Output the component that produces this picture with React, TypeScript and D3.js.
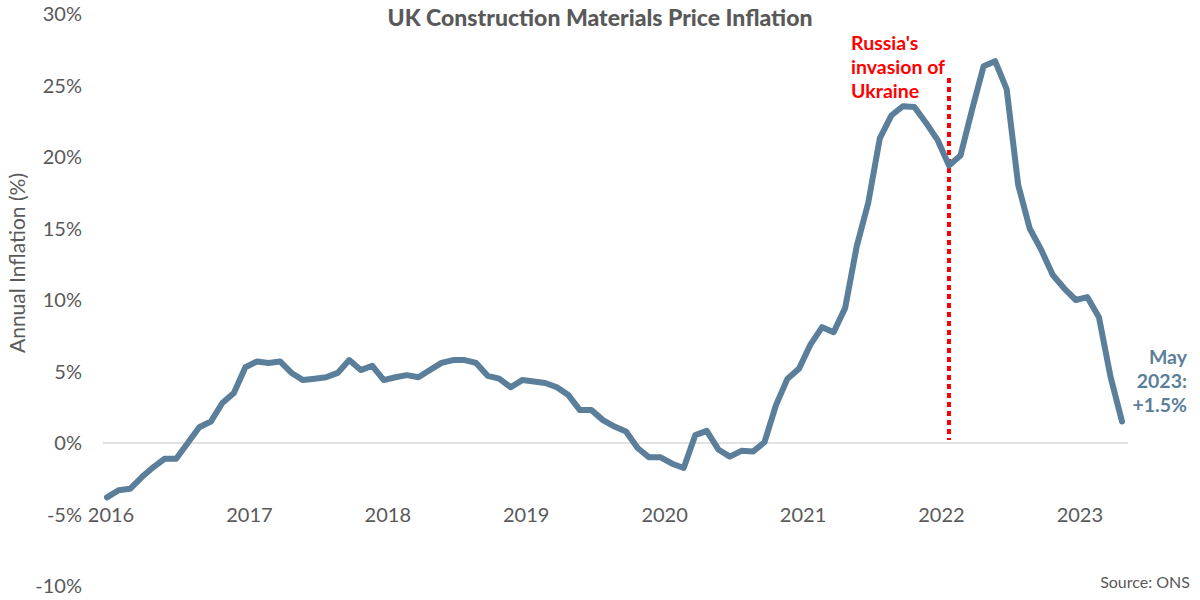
import React from 'react';
import * as d3 from 'd3';

// monthly annual inflation (%), Jan 2016 - May 2023
const values2016 = [-3.8, -3.3, -3.2, -2.4, -1.7, -1.1, -1.1, 0.0, 1.1, 1.5, 2.8, 3.5];
const values2017 = [5.3, 5.7, 5.6, 5.7, 4.9, 4.4, 4.5, 4.6, 4.9, 5.8, 5.1, 5.4];
const values2018 = [4.4, 4.6, 4.75, 4.6, 5.1, 5.6, 5.8, 5.8, 5.6, 4.7, 4.5, 3.9];
const values2019 = [4.4, 4.3, 4.2, 3.9, 3.35, 2.3, 2.3, 1.6, 1.15, 0.8, -0.35, -1.0];
const values2020 = [-1.0, -1.45, -1.75, 0.55, 0.85, -0.45, -0.95, -0.55, -0.6, 0.05, 2.65, 4.5];
const values2021 = [5.2, 6.9, 8.1, 7.75, 9.45, 13.75, 16.8, 21.3, 22.9, 23.55, 23.5, 22.4];
const values2022 = [21.2, 19.4, 20.1, 23.3, 26.35, 26.7, 24.75, 18.05, 15.0, 13.5, 11.75, 10.8];
const values2023 = [10.0, 10.2, 8.8, 4.65, 1.5];

const years = [2016, 2017, 2018, 2019, 2020, 2021, 2022, 2023];
const yTicks = [-10, -5, 0, 5, 10, 15, 20, 25, 30];

const series = [
  ...values2016, ...values2017, ...values2018, ...values2019,
  ...values2020, ...values2021, ...values2022, ...values2023,
];

// Feb 2022 (month index from Jan 2016)
const invasionMonth = 73;

const W = 1200;
const H = 600;
const FONT = 'Lato, "Open Sans", sans-serif';
const GREY = '#595959';
const LINE = '#5b7f9a';

const App: React.FC = () => {
  const x = d3.scaleLinear().domain([0, series.length - 1]).range([107, 1122]);
  const y = d3.scaleLinear().domain([-10, 30]).range([586, 14]);

  const line = d3
    .line<number>()
    .x((_, i) => x(i))
    .y((d) => y(d));

  const last = series[series.length - 1];

  return (
    <div style={{ position: 'fixed', left: 0, top: 0, background: '#fff' }}>
      <svg width={W} height={H} style={{ display: 'block', fontFamily: FONT }}>
        <rect width={W} height={H} fill="#fff" />

        {/* title */}
        <text x={600} y={26} textAnchor="middle" fontSize={23} fontWeight={900} fill={GREY}>
          UK Construction Materials Price Inflation
        </text>

        {/* y axis labels */}
        {yTicks.map((t) => (
          <text key={t} x={82} y={y(t)} dy="0.35em" textAnchor="end" fontSize={20} fill={GREY}>
            {`${t}%`}
          </text>
        ))}
        <text
          transform={`translate(25,${263}) rotate(-90)`}
          textAnchor="middle"
          fontSize={21}
          fill={GREY}
        >
          Annual Inflation (%)
        </text>

        {/* zero line */}
        <line x1={103} x2={1128} y1={y(0)} y2={y(0)} stroke="#d9d9d9" strokeWidth={1.5} />

        {/* year labels */}
        {years.map((yr, k) => (
          <text key={yr} x={x(k * 12) + 4} y={y(-5)} dy="0.35em" textAnchor="middle" fontSize={20} fill={GREY}>
            {yr}
          </text>
        ))}

        {/* invasion marker */}
        <line
          x1={x(invasionMonth)}
          x2={x(invasionMonth)}
          y1={78}
          y2={440}
          stroke="#ff0000"
          strokeWidth={4}
          strokeDasharray="5 4"
        />
        <g fontSize={19.5} fontWeight="bold" fill="#ff0000">
          <text x={851} y={50}>Russia's</text>
          <text x={851} y={74}>invasion of</text>
          <text x={851} y={98}>Ukraine</text>
        </g>

        {/* series */}
        <path
          d={line(series) ?? ''}
          fill="none"
          stroke={LINE}
          strokeWidth={6}
          strokeLinejoin="round"
          strokeLinecap="round"
        />

        {/* latest value */}
        <g fontSize={19.5} fontWeight="bold" fill={LINE} textAnchor="end">
          <text x={1187} y={364}>May</text>
          <text x={1187} y={388}>2023:</text>
          <text x={1187} y={412}>{`+${last.toFixed(1)}%`}</text>
        </g>

        <text x={1190} y={588} textAnchor="end" fontSize={16} fill={GREY}>
          Source: ONS
        </text>
      </svg>
    </div>
  );
};

export default App;
